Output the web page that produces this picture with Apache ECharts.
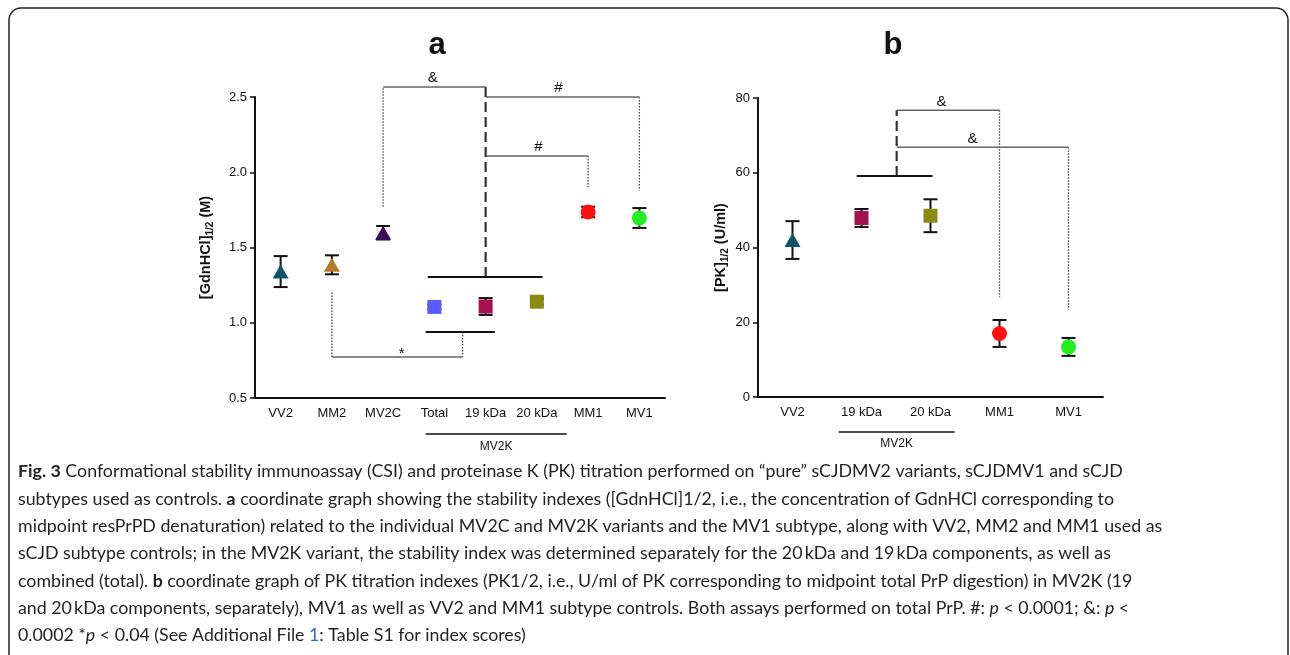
<!DOCTYPE html>
<html>
<head>
<meta charset="utf-8">
<title>Fig. 3</title>
<script src="https://cdn.jsdelivr.net/npm/echarts@6.0.0/dist/echarts.min.js"></script>
<style>
html, body { margin: 0; padding: 0; background: #fff; }
#chart { width: 1290px; height: 655px; }
</style>
</head>
<body>
<div id="chart"></div>
<script>
// ---- panel a: CSI, [GdnHCl]1/2 (M) ----
var catsA = ['VV2', 'MM2', 'MV2C', 'Total', '19 kDa', '20 kDa', 'MM1', 'MV1'];
var meanA = [1.34, 1.385, 1.598, 1.105, 1.108, 1.14, 1.736, 1.696];
var errA  = [0.103, 0.063, 0.045, 0.015, 0.056, 0.02, 0.035, 0.066];

// ---- panel b: PK titration, [PK]1/2 (U/ml) ----
var catsB = ['VV2', '19 kDa', '20 kDa', 'MM1', 'MV1'];
var meanB = [42.0, 47.9, 48.5, 17.0, 13.4];
var errB  = [5.05, 2.4, 4.4, 3.6, 2.4];

// significance brackets, in data units (x = category index)
var dottedA = [[[2, 1.77], [2, 2.566]], [[7, 2.5], [7, 1.88]], [[6, 2.108], [6, 1.9]],
               [[3.55, 0.939], [3.55, 0.772]], [[1, 0.772], [1, 1.21]]];
var grayA   = [[[2, 2.566], [4, 2.566]], [[4, 2.5], [7, 2.5]], [[4, 2.108], [6, 2.108]],
               [[3.55, 0.772], [1, 0.772]]];
var dashedA = [[[4, 2.566], [4, 1.304]]];
var blackA  = [[[2.87, 1.304], [5.11, 1.304]], [[2.83, 0.939], [4.18, 0.939]]];
var marksA  = [['&', 2.97, 2.626], ['#', 5.42, 2.56], ['#', 5.03, 2.168], ['*', 2.36, 0.79]];

var dottedB = [[[3, 76.7], [3, 26.7]], [[4, 66.8], [4, 23.3]]];
var grayB   = [[[1.51, 76.7], [3, 76.7]], [[1.51, 66.8], [4, 66.8]]];
var dashedB = [[[1.51, 59.1], [1.51, 76.7]]];
var blackB  = [[[0.93, 59.1], [2.03, 59.1]]];
var marksB  = [['&', 2.16, 78.9], ['&', 2.61, 69.0]];

// MV2K group under the x axis (category index range)
var groupA = [2.83, 5.58];
var groupB = [0.67, 2.35];

var captionLines = [
  '{b|Fig. 3} Conformational stability immunoassay (CSI) and proteinase K (PK) titration performed on \u201Cpure\u201D sCJDMV2 variants, sCJDMV1 and sCJD',
  'subtypes used as controls. {b|a} coordinate graph showing the stability indexes ([GdnHCl]1/2, i.e., the concentration of GdnHCl corresponding to',
  'midpoint resPrPD denaturation) related to the individual MV2C and MV2K variants and the MV1 subtype, along with VV2, MM2 and MM1 used as',
  'sCJD subtype controls; in the MV2K variant, the stability index was determined separately for the 20\u2009kDa and 19\u2009kDa components, as well as',
  'combined (total). {b|b} coordinate graph of PK titration indexes (PK1/2, i.e., U/ml of PK corresponding to midpoint total PrP digestion) in MV2K (19',
  'and 20\u2009kDa components, separately), MV1 as well as VV2 and MM1 subtype controls. Both assays performed on total PrP. #: {i|p} < 0.0001; &: {i|p} <',
  '0.0002 *{i|p} < 0.04 (See Additional File {l|1}: Table S1 for index scores)'
];

// marker look per group
var look = {
  'VV2':    { c: '#0b5566', s: 'triangle' },
  'MM2':    { c: '#b8782a', s: 'triangle' },
  'MV2C':   { c: '#3d0d5c', s: 'triangle' },
  'Total':  { c: '#5a5aff', s: 'rect' },
  '19 kDa': { c: '#a5114f', s: 'rect' },
  '20 kDa': { c: '#8a8a12', s: 'rect' },
  'MM1':    { c: '#ff1010', s: 'circle' },
  'MV1':    { c: '#22ee22', s: 'circle' }
};

var FONT = 'Liberation Sans, Arial, sans-serif';
var CAP_FONT = 'Lato, sans-serif';
var gridA = { left: 255, top: 97, width: 410, height: 301 };
var gridB = { left: 758, top: 98, width: 345, height: 299 };

function catAxis(gi, cats) {
  return {
    type: 'category', gridIndex: gi, data: cats, boundaryGap: true,
    axisLine: { onZero: false, lineStyle: { color: '#111', width: 2 } },
    axisTick: { alignWithLabel: true, length: 5, lineStyle: { color: '#111', width: 1.5 } },
    axisLabel: { color: '#111', fontSize: 13, fontFamily: FONT, margin: 9, interval: 0 },
    splitLine: { show: false }
  };
}
function hiddenAxis(gi, n) {
  return { type: 'value', gridIndex: gi, min: -0.5, max: n - 0.5, show: false };
}
function valAxis(gi, min, max, step, name, gap, dec) {
  return {
    type: 'value', gridIndex: gi, min: min, max: max, interval: step,
    name: name, nameLocation: 'middle', nameRotate: 90, nameGap: gap,
    nameTextStyle: {
      rich: {
        n: { fontSize: 14.5, fontWeight: 'bold', fontFamily: FONT, color: '#111', lineHeight: 19 },
        s: { fontSize: 10, fontWeight: 'bold', fontFamily: FONT, color: '#111', lineHeight: 11, verticalAlign: 'bottom' }
      }
    },
    axisLine: { show: true, onZero: false, lineStyle: { color: '#111', width: 2 } },
    axisTick: { show: true, length: 5, lineStyle: { color: '#111', width: 1.5 } },
    axisLabel: { color: '#111', fontSize: 13, fontFamily: FONT, margin: 8,
      formatter: function (v) { return v.toFixed(dec); } },
    splitLine: { show: false }
  };
}

function points(cats, mean, xi, yi) {
  return {
    type: 'scatter', xAxisIndex: xi, yAxisIndex: yi, z: 5, silent: true,
    data: mean.map(function (v, i) { return [i, v]; }),
    symbol: function (v, p) { return look[cats[p.dataIndex]].s; },
    symbolSize: function (v, p) {
      var s = look[cats[p.dataIndex]].s;
      return s === 'triangle' ? [16, 14] : (s === 'rect' ? 14 : 15);
    },
    itemStyle: { opacity: 1, color: function (p) { return look[cats[p.dataIndex]].c; } }
  };
}

function errorBars(mean, err, xi, yi, cap) {
  return {
    type: 'custom', xAxisIndex: xi, yAxisIndex: yi, z: 4, silent: true,
    data: mean.map(function (m, i) { return [i, m - err[i], m + err[i]]; }),
    renderItem: function (params, api) {
      var lo = api.coord([api.value(0), api.value(1)]);
      var hi = api.coord([api.value(0), api.value(2)]);
      var x = lo[0];
      var st = { stroke: '#111', lineWidth: 2 };
      return { type: 'group', children: [
        { type: 'line', shape: { x1: x, y1: lo[1], x2: x, y2: hi[1] }, style: st },
        { type: 'line', shape: { x1: x - cap, y1: lo[1], x2: x + cap, y2: lo[1] }, style: st },
        { type: 'line', shape: { x1: x - cap, y1: hi[1], x2: x + cap, y2: hi[1] }, style: st }
      ] };
    }
  };
}

function segs(list, xi, yi, ls) {
  return list.map(function (pts) {
    return { type: 'line', xAxisIndex: xi, yAxisIndex: yi, data: pts, symbol: 'none',
      silent: true, z: 3, animation: false, clip: false, lineStyle: ls };
  });
}

function marks(list, xi, yi) {
  return {
    type: 'custom', xAxisIndex: xi, yAxisIndex: yi, z: 6, silent: true, clip: false,
    data: list.map(function (m) { return [m[1], m[2]]; }),
    renderItem: function (params, api) {
      var p = api.coord([api.value(0), api.value(1)]);
      return { type: 'text', x: p[0], y: p[1], style: {
        text: list[params.dataIndex][0], fill: '#111', fontSize: 15, fontFamily: FONT,
        align: 'center', verticalAlign: 'middle' } };
    }
  };
}

var DOT = { color: '#444', width: 1.3, type: [1.5, 1.5] };
var GRAY = { color: '#666', width: 1.5 };
var DASH = { color: '#333', width: 2.2, type: [10, 5] };
var BLACK = { color: '#111', width: 2 };

var series = [].concat(
  errorBars(meanA, errA, 0, 0, 7),
  points(catsA, meanA, 0, 0),
  segs(dottedA, 1, 0, DOT), segs(grayA, 1, 0, GRAY), segs(dashedA, 1, 0, DASH), segs(blackA, 1, 0, BLACK),
  marks(marksA, 1, 0),
  errorBars(meanB, errB, 2, 1, 7),
  points(catsB, meanB, 2, 1),
  segs(dottedB, 3, 1, DOT), segs(grayB, 3, 1, GRAY), segs(dashedB, 3, 1, DASH), segs(blackB, 3, 1, BLACK),
  marks(marksB, 3, 1)
);

var chart = echarts.init(document.getElementById('chart'));
chart.setOption({
  animation: false,
  backgroundColor: '#fff',
  grid: [gridA, gridB],
  xAxis: [catAxis(0, catsA), hiddenAxis(0, catsA.length), catAxis(1, catsB), hiddenAxis(1, catsB.length)],
  yAxis: [
    valAxis(0, 0.5, 2.5, 0.5, '{n|[GdnHCl]}{s|1/2}{n| (M)}', 40, 1),
    valAxis(1, 0, 80, 20, '{n|[PK]}{s|1/2}{n| (U/ml)}', 28, 0)
  ],
  series: series
});

// group brackets under the axes, placed through the axis scales
function groupLine(xi, range, gridBottom, lineOff, textOff) {
  var x1 = chart.convertToPixel({ xAxisIndex: xi }, range[0]);
  var x2 = chart.convertToPixel({ xAxisIndex: xi }, range[1]);
  return [
    { type: 'line', shape: { x1: x1, y1: gridBottom + lineOff, x2: x2, y2: gridBottom + lineOff },
      style: { stroke: '#111', lineWidth: 1.5 } },
    { type: 'text', x: (x1 + x2) / 2, y: gridBottom + textOff,
      style: { text: 'MV2K', fill: '#111', fontSize: 12, fontFamily: FONT, align: 'center', verticalAlign: 'middle' } }
  ];
}

var capStyle = { fontSize: 17.8, fontFamily: CAP_FONT, fill: '#231f20', lineHeight: 27.3 };
var graphics = [
  { type: 'rect', shape: { x: 9, y: 8, width: 1279, height: 700, r: 12 },
    style: { fill: 'none', stroke: '#222', lineWidth: 1.5 } },
  { type: 'text', x: 437, y: 45, style: { text: 'a', fill: '#111', font: 'bold 31px ' + FONT, align: 'center', verticalAlign: 'middle' } },
  { type: 'text', x: 893, y: 45, style: { text: 'b', fill: '#111', font: 'bold 31px ' + FONT, align: 'center', verticalAlign: 'middle' } },
  { type: 'text', x: 18, y: 458, style: Object.assign({
      text: captionLines.join('\n'),
      rich: {
        b: Object.assign({ fontWeight: 'bold' }, capStyle),
        i: Object.assign({ fontStyle: 'italic' }, capStyle),
        l: Object.assign({}, capStyle, { fill: '#2a6bc0' })
      } }, capStyle) }
].concat(
  groupLine(1, groupA, gridA.top + gridA.height, 36, 49),
  groupLine(3, groupB, gridB.top + gridB.height, 35, 47)
);
chart.setOption({ graphic: graphics });
</script>
</body>
</html>
